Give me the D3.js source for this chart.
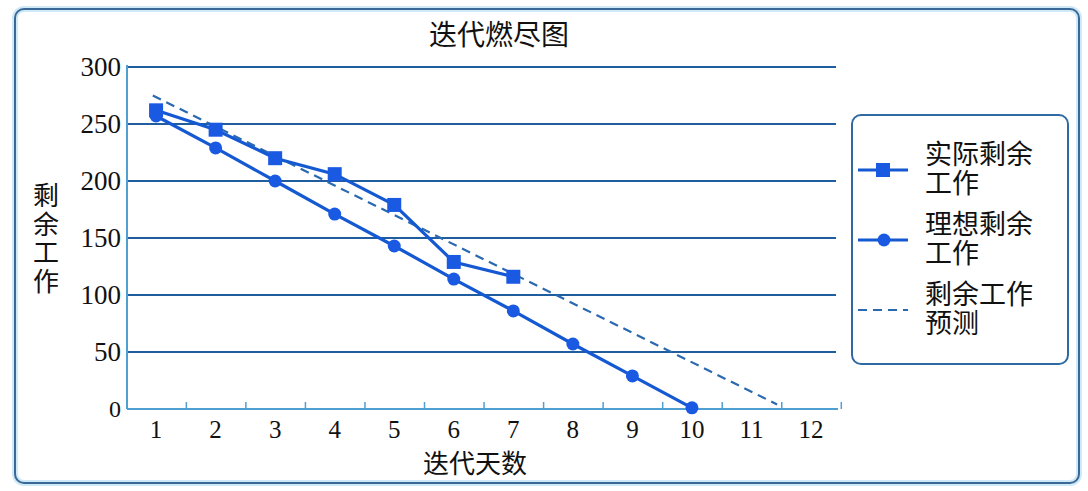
<!DOCTYPE html>
<html><head><meta charset="utf-8">
<script src="https://cdn.jsdelivr.net/npm/d3@7/dist/d3.min.js"></script>
<style>html,body{margin:0;padding:0;background:#fff;}svg{display:block;}</style>
</head><body>
<svg id="c" width="1088" height="491"></svg>
<script>
const days = [1,2,3,4,5,6,7,8,9,10,11,12];
const yTicks = [0,50,100,150,200,250,300];
const actualDays = [1,2,3,4,5,6,7];
const actualValues = [262,245,220,206,179,129,116];
const idealDays = [1,2,3,4,5,6,7,8,9,10];
const idealValues = [257,229,200,171,143,114,86,57,29,1];
const forecastDays = [0.945, 11.43];
const forecastValues = [275, 4];
const title = "迭代燃尽图";
const xTitle = "迭代天数";
const yTitle = ["剩","余","工","作"];
const legendItems = [
  {lines:["实际剩余","工作"], type:"square"},
  {lines:["理想剩余","工作"], type:"circle"},
  {lines:["剩余工作","预测"], type:"dash"}
];

const svg = d3.select("#c");
const cjk = "'Noto Sans CJK SC','Noto Sans',sans-serif";
const serif = "'Liberation Serif','DejaVu Serif',serif";
const gridColor = "#1f5d9f";
const axisColor = "#4f9fd3";
const lineColor = "#1559d2";
const markColor = "#1a5ae2";

// frame
svg.append("rect").attr("x",15).attr("y",9).attr("width",1064).attr("height",474)
  .attr("rx",9).attr("fill","#fff").attr("stroke","#cfe9f6").attr("stroke-width",6);
svg.append("rect").attr("x",15).attr("y",9).attr("width",1064).attr("height",474)
  .attr("rx",9).attr("fill","none").attr("stroke","#3a6897").attr("stroke-width",2);

const left = 126.3, right = 840.8;
const xBand = d3.scaleBand().domain(days).range([left,right]);
const xLin = d3.scaleLinear().domain([0.5,12.5]).range([left,right]);
const y = d3.scaleLinear().domain([0,300]).range([409,67]);

// gridlines
svg.append("g").selectAll("line").data(yTicks.filter(d=>d>0)).join("line")
  .attr("x1",127).attr("x2",836).attr("y1",d=>y(d)).attr("y2",d=>y(d))
  .attr("stroke",gridColor).attr("stroke-width",2);

// y axis line
svg.append("line").attr("x1",127).attr("x2",127).attr("y1",y(300)-2).attr("y2",y(0))
  .attr("stroke",axisColor).attr("stroke-width",2);

// x axis with inner ticks at band boundaries
const xAxis = d3.axisBottom(xLin).tickValues(days.map(d=>d+0.5)).tickFormat("")
  .tickSizeInner(-7).tickSizeOuter(0);
const gx = svg.append("g").attr("transform",`translate(0,${y(0)})`).call(xAxis);
gx.select(".domain").attr("stroke",axisColor).attr("stroke-width",2).attr("d",`M127,0H838`);
gx.selectAll(".tick line").attr("stroke",axisColor).attr("stroke-width",1.5);

// x tick labels
svg.append("g").selectAll("text").data(days).join("text")
  .attr("x",d=>xBand(d)+xBand.bandwidth()/2).attr("y",438)
  .attr("text-anchor","middle").attr("font-family",serif).attr("font-size",25)
  .attr("fill","#111").text(d=>d);

// y tick labels
svg.append("g").selectAll("text").data(yTicks).join("text")
  .attr("x",121).attr("y",d=>y(d)).attr("dy","0.34em")
  .attr("text-anchor","end").attr("font-family",serif).attr("font-size",d=>d===0?24:27)
  .attr("fill","#111").text(d=>d);

// titles
svg.append("text").attr("x",499).attr("y",45).attr("text-anchor","middle")
  .attr("font-family",cjk).attr("font-size",28).attr("fill","#111").text(title);
svg.append("text").attr("x",475).attr("y",473).attr("text-anchor","middle")
  .attr("font-family",cjk).attr("font-size",26).attr("fill","#111").text(xTitle);
const yt = svg.append("text").attr("text-anchor","middle")
  .attr("font-family",cjk).attr("font-size",26).attr("fill","#111");
yTitle.forEach((c,i)=>yt.append("tspan").attr("x",46).attr("y",205+i*28.5).text(c));

// forecast dashed
const lineF = d3.line().x(d=>xLin(d[0])).y(d=>y(d[1]));
svg.append("path").datum(forecastDays.map((d,i)=>[d,forecastValues[i]]))
  .attr("d",lineF).attr("fill","none").attr("stroke","#2a69b0").attr("stroke-width",2.2)
  .attr("stroke-dasharray","9,6");

// ideal
const idealData = idealDays.map((d,i)=>[d,idealValues[i]]);
svg.append("path").datum(idealData).attr("d",lineF).attr("fill","none")
  .attr("stroke",lineColor).attr("stroke-width",3.2);
svg.append("g").selectAll("circle").data(idealData).join("circle")
  .attr("cx",d=>xLin(d[0])).attr("cy",d=>y(d[1])).attr("r",6.5).attr("fill",markColor);

// actual
const actualData = actualDays.map((d,i)=>[d,actualValues[i]]);
svg.append("path").datum(actualData).attr("d",lineF).attr("fill","none")
  .attr("stroke",lineColor).attr("stroke-width",3.2);
svg.append("g").selectAll("rect").data(actualData).join("rect")
  .attr("x",d=>xLin(d[0])-7).attr("y",d=>y(d[1])-7).attr("width",14).attr("height",14)
  .attr("fill",markColor);

// legend
svg.append("rect").attr("x",852).attr("y",115).attr("width",216).attr("height",249)
  .attr("rx",9).attr("fill","#fff").attr("stroke","#2f6aa3").attr("stroke-width",2);
const ly = [170, 240, 310];
const lg = svg.append("g");
legendItems.forEach((it,i)=>{
  const yy = ly[i];
  if(it.type==="dash"){
    lg.append("line").attr("x1",858).attr("x2",908).attr("y1",yy).attr("y2",yy)
      .attr("stroke","#2a69b0").attr("stroke-width",2.2).attr("stroke-dasharray","9,6");
  } else {
    lg.append("line").attr("x1",858).attr("x2",908).attr("y1",yy).attr("y2",yy)
      .attr("stroke",lineColor).attr("stroke-width",3);
    if(it.type==="square") lg.append("rect").attr("x",883-7).attr("y",yy-7).attr("width",14).attr("height",14).attr("fill",markColor);
    else lg.append("circle").attr("cx",884).attr("cy",yy).attr("r",6.5).attr("fill",markColor);
  }
  const t = lg.append("text").attr("font-family",cjk).attr("font-size",27).attr("fill","#111");
  it.lines.forEach((s,j)=>{
    t.append("tspan").attr("x",925).attr("y",yy-6+j*29).text(s);
  });
});
</script>
</body></html>
